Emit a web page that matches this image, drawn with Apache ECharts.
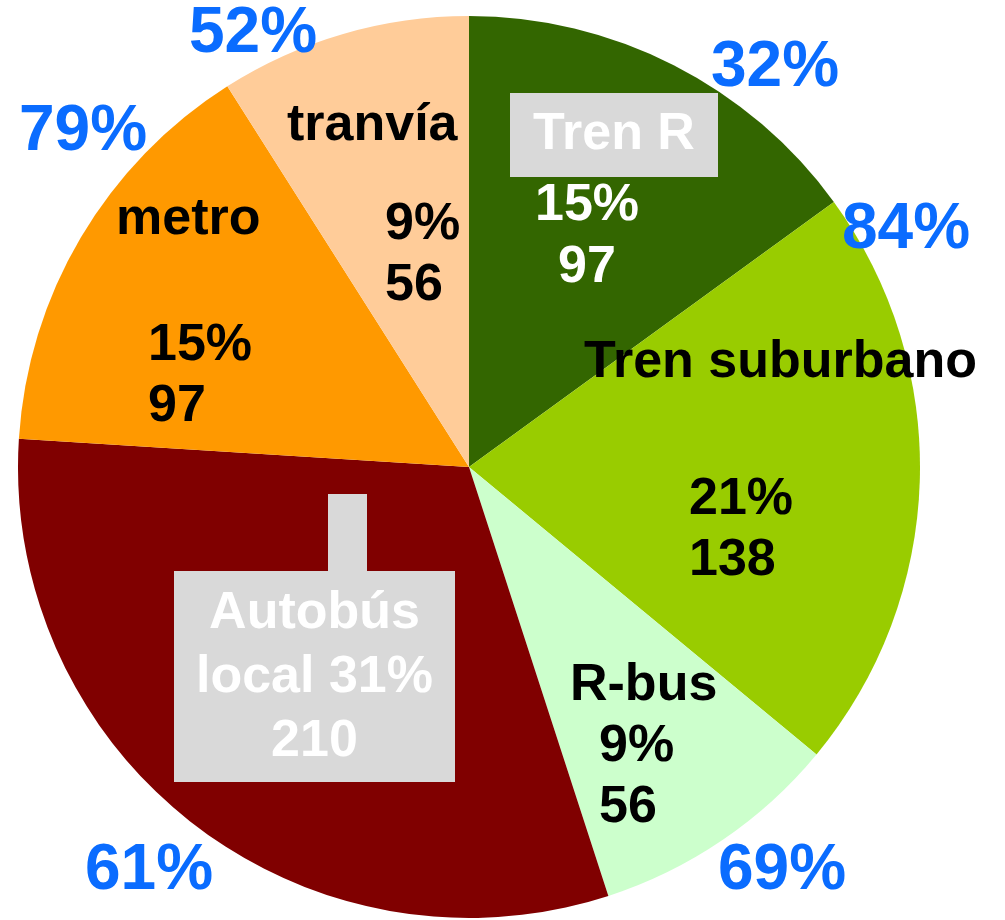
<!DOCTYPE html>
<html style="height: 100%">

<head>
  <meta charset="UTF-8" />
  <title>Reparto modal</title>
  <script src="https://cdn.jsdelivr.net/npm/echarts@6/dist/echarts.min.js"></script>
</head>

<body style="height: 100%; margin: 0; background: #fff">
  <div id="main" style="width: 1005px; height: 920px"></div>
  <script>
    const modes = ['Tren R', 'Tren suburbano', 'R-bus', 'Autobús local', 'metro', 'tranvía'];
    const shares = [15, 21, 9, 31, 15, 9];
    const trips = [97, 138, 56, 210, 97, 56];
    const outerShares = [32, 84, 69, 61, 79, 52];

    const colors = ['#336600', '#99cc00', '#ccffcc', '#800000', '#ff9900', '#ffcc99'];
    // nudges from the default inside label spot, one per slice
    const nameShift = [[41, -128], [83, -111], [46, 30], [-14, -10], [-84, -131], [-33, -122]];
    const valueShift = [[14, -26], [44, 56], [39, 122], [0, 0], [-72, 26], [17, 8]];
    const outerShift = [[75, 54], [-71, -253], [28, -16], [-9, 3], [51, -76], [-74, 55]];

    const font = { fontFamily: 'Liberation Sans, Arial, sans-serif', fontWeight: 'bold', fontSize: 52 };
    const grey = '#d9d9d9';
    const center = [469, 467];

    const chart = echarts.init(document.getElementById('main'));

    const clear = 'rgba(0,0,0,0)';
    // snap to whole pixels so the stacked grey boxes meet cleanly
    const shift = arr => p => {
      const r = p.labelRect;
      return {
        dx: arr[p.dataIndex][0] + Math.round(r.x) - r.x,
        dy: arr[p.dataIndex][1] + Math.round(r.y) - r.y
      };
    };

    const option = {
      animation: false,
      series: [
        {
          type: 'pie',
          center: center,
          radius: [0, 451],
          startAngle: 90,
          silent: true,
          data: modes.map((m, i) => ({ name: m, value: shares[i], itemStyle: { color: colors[i] } })),
          labelLine: { show: false },
          label: {
            position: 'inside',
            overflow: 'none',
            formatter: function (p) {
              const i = p.dataIndex;
              if (i === 0) return '{box|' + p.name + '}';
              if (i === 3) {
                const w = p.name.split(' ');
                return '{sp|}{stem|}\n{padT|}\n{bus|' + w[0] + '}\n{bus|' + w[1] + ' ' + shares[i] + '%}\n{bus|' + trips[i] + '}\n{padB|}';
              }
              return '{dark|' + p.name + '}';
            },
            rich: {
              box: Object.assign({ color: '#fff', backgroundColor: grey, width: 208, height: 84, lineHeight: 84, align: 'center' }, font),
              dark: Object.assign({ color: '#000', lineHeight: 60, align: 'center' }, font),
              sp: { width: 154, height: 77, lineHeight: 77, align: 'left' },
              stem: { width: 39, height: 77, lineHeight: 77, align: 'left', backgroundColor: grey },
              padT: { width: 281, height: 11, lineHeight: 11, align: 'center', backgroundColor: grey },
              padB: { width: 281, height: 8, lineHeight: 8, align: 'center', backgroundColor: grey },
              bus: Object.assign({ color: '#fff', backgroundColor: grey, width: 281, height: 64, lineHeight: 64, align: 'center' }, font)
            }
          },
          labelLayout: shift(nameShift)
        },
        {
          type: 'pie',
          center: center,
          radius: [0, 451],
          startAngle: 90,
          silent: true,
          itemStyle: { color: clear },
          data: modes.map((m, i) => ({ name: m, value: shares[i] })),
          labelLine: { show: false },
          label: {
            position: 'inside',
            overflow: 'none',
            formatter: function (p) {
              const i = p.dataIndex;
              if (i === 3) return '';
              const s = i === 0 ? 'lt' : 'dk';
              return '{' + s + '|' + shares[i] + '%}\n{' + s + '|' + trips[i] + '}';
            },
            rich: {
              lt: Object.assign({ color: '#fff', lineHeight: 62, align: 'center' }, font),
              dk: Object.assign({ color: '#000', lineHeight: 61, align: 'left' }, font)
            }
          },
          labelLayout: shift(valueShift)
        },
        {
          type: 'pie',
          center: center,
          radius: [490, 520],
          startAngle: 90,
          silent: true,
          itemStyle: { color: clear },
          data: modes.map((m, i) => ({ name: m, value: shares[i] })),
          labelLine: { show: false },
          label: {
            position: 'inside',
            overflow: 'none',
            color: '#0a6cff',
            fontSize: 64,
            fontFamily: font.fontFamily,
            fontWeight: 'bold',
            formatter: p => outerShares[p.dataIndex] + '%'
          },
          labelLayout: shift(outerShift)
        }
      ]
    };

    chart.setOption(option);
  </script>
</body>

</html>
